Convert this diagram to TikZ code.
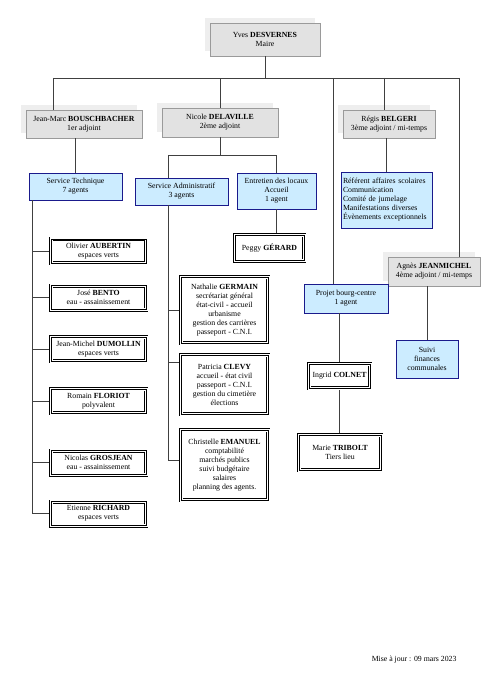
\documentclass[tikz,border=0pt]{standalone}
\usepackage{fontspec}
\setmainfont{Liberation Serif}
\usetikzlibrary{shadows}
\definecolor{bleuclair}{HTML}{CCECFF}
\definecolor{bleufonce}{HTML}{1A1A8C}
\definecolor{grisfond}{HTML}{E2E2E2}
\definecolor{grisbord}{HTML}{9A9A9A}
\definecolor{grisombre}{HTML}{EEEEEE}
\begin{document}
\begin{tikzpicture}[x=1pt,y=-1pt,font=\fontsize{7.8}{9}\selectfont,
	elu/.style={draw=grisbord,fill=grisfond,align=center,inner sep=2pt,drop shadow={shadow xshift=-5pt,shadow yshift=5pt,fill=grisombre,opacity=1}},
	service/.style={draw=bleufonce,line width=0.8pt,fill=bleuclair,align=center,inner sep=2pt},
	agent/.style={draw=black,line width=0.9pt,align=center,inner sep=2pt,
		preaction={draw=black,line width=4pt},preaction={draw=white,line width=3pt}},
	lien/.style={draw=black!75,line width=0.6pt}]
	\useasboundingbox (0,0) rectangle (495,700);
	\node[elu,minimum width=110pt,minimum height=33pt] (maire) at (265,39.5) {Yves \textbf{DESVERNES}\\Maire};
	\node[elu,minimum width=116pt,minimum height=28pt] (adj1) at (84,124) {Jean-Marc \textbf{BOUSCHBACHER}\\1er adjoint};
	\node[elu,minimum width=116pt,minimum height=29pt] (adj2) at (220,122.5) {Nicole \textbf{DELAVILLE}\\2ème adjoint};
	\node[elu,minimum width=92pt,minimum height=28pt] (adj3) at (389,124) {Régis \textbf{BELGERI}\\3ème adjoint / mi-temps};
	\node[elu,minimum width=92pt,minimum height=29pt] (adj4) at (434,271.5) {Agnès \textbf{JEANMICHEL}\\4ème adjoint / mi-temps};
	\node[service,minimum width=93pt,minimum height=27pt] (tech) at (75.5,186.5) {Service Technique\\7 agents};
	\node[service,minimum width=93pt,minimum height=27pt] (admin) at (181.5,191.5) {Service Administratif\\3 agents};
	\node[service,minimum width=79pt,minimum height=36pt] (entretien) at (276.5,191) {Entretien des locaux\\Accueil\\1 agent};
	\node[service,text width=87pt,align=left,minimum height=56pt] (missions) at (386.5,200) {Référent affaires scolaires\\Communication\\Comité de jumelage\\Manifestations diverses\\Évènements exceptionnels};
	\node[service,minimum width=84pt,minimum height=29pt] (projet) at (346,298.5) {Projet bourg-centre\\1 agent};
	\node[service,minimum width=62pt,minimum height=38pt] (suivi) at (427,359) {Suivi\\finances\\communales};
	\node[agent,minimum width=95pt,minimum height=24pt] (a1) at (98.5,251) {Olivier \textbf{AUBERTIN}\\espaces verts};
	\node[agent,minimum width=95pt,minimum height=24pt] (a2) at (98.5,297.5) {José \textbf{BENTO}\\eau - assainissement};
	\node[agent,minimum width=95pt,minimum height=24pt] (a3) at (98.5,349) {Jean-Michel \textbf{DUMOLLIN}\\espaces verts};
	\node[agent,minimum width=95pt,minimum height=24pt] (a4) at (98.5,401) {Romain \textbf{FLORIOT}\\polyvalent};
	\node[agent,minimum width=95pt,minimum height=24pt] (a5) at (98.5,462.5) {Nicolas \textbf{GROSJEAN}\\eau - assainissement};
	\node[agent,minimum width=95pt,minimum height=24pt] (a6) at (98.5,513.5) {Etienne \textbf{RICHARD}\\espaces verts};
	\node[agent,minimum width=87pt,minimum height=66pt] (c1) at (224.5,310) {Nathalie \textbf{GERMAIN}\\secrétariat général\\état-civil - accueil\\urbanisme\\gestion des carrières\\passeport - C.N.I.};
	\node[agent,minimum width=87pt,minimum height=59pt] (c2) at (224.5,384.5) {Patricia \textbf{CLEVY}\\accueil - état civil\\passeport - C.N.I.\\gestion du cimetière\\élections};
	\node[agent,minimum width=87pt,minimum height=70pt] (c3) at (224.5,465) {Christelle \textbf{EMANUEL}\\comptabilité\\marchés publics\\suivi budgétaire\\salaires\\planning des agents.};
	\node[agent,minimum width=69pt,minimum height=25pt] (peggy) at (269.5,248) {Peggy \textbf{GÉRARD}};
	\node[agent,minimum width=61pt,minimum height=24pt] (ingrid) at (339.5,376) {Ingrid \textbf{COLNET}};
	\node[agent,minimum width=82pt,minimum height=35pt] (marie) at (340,452.5) {Marie \textbf{TRIBOLT}\\Tiers lieu};
	\node[anchor=east] (maj) at (460,660) {Mise à jour : 09 mars 2023};
	\coordinate (b1) at (53,78);
	\coordinate (b3) at (384,78);
	\coordinate (b4) at (333,78);
	\coordinate (b5) at (459,78);
	\coordinate (b7) at (168,155);
	\draw[lien] (maire) -- (maire |- b1);
	\draw[lien] (b1) -- (b5);
	\draw[lien] (b1) -- (b1 |- adj1.north);
	\draw[lien] (adj2.north) -- (adj2.north |- b1);
	\draw[lien] (b3) -- (b3 |- adj3.north);
	\draw[lien] (b4) -- (b4 |- projet.north);
	\draw[lien] (b5) -- (b5 |- adj4.north);
	\draw[lien] (tech.north) -- (tech.north |- adj1.south);
	\draw[lien] (adj2.south) -- (adj2.south |- b7);
	\draw[lien] (b7) -- (entretien.north |- b7) -- (entretien.north);
	\draw[lien] (b7) -- (b7 |- admin.north);
	\draw[lien] (missions.north) -- (missions.north |- adj3.south);
	\draw[lien] (entretien.south) -- ([yshift=2pt]entretien.south |- peggy.north);
	\coordinate (t0) at ([xshift=4pt]tech.south west);
	\draw[lien] (t0) |- ([xshift=-2pt]a6.west);
	\foreach \n in {a1,a2,a3,a4,a5}
		\draw[lien] ([xshift=-2pt]\n.west) -- (\n.west -| t0);
	\coordinate (s0) at (b7 |- admin.south);
	\draw[lien] (s0) |- ([xshift=-2pt,yshift=5pt]c3.west);
	\draw[lien] ([xshift=-2pt]c1.west) -- (c1.west -| s0);
	\draw[lien] ([xshift=-2pt,yshift=22pt]c2.west) -- ([yshift=22pt]c2.west -| s0);
	\draw[lien] ([yshift=2pt]ingrid.north) -- (ingrid.north |- projet.south);
	\draw[lien] ([yshift=-2pt]ingrid.south) -- ([yshift=2pt]ingrid.south |- marie.north);
	\draw[lien] (suivi.north) -- (suivi.north |- adj4.south);
\end{tikzpicture}
\end{document}
